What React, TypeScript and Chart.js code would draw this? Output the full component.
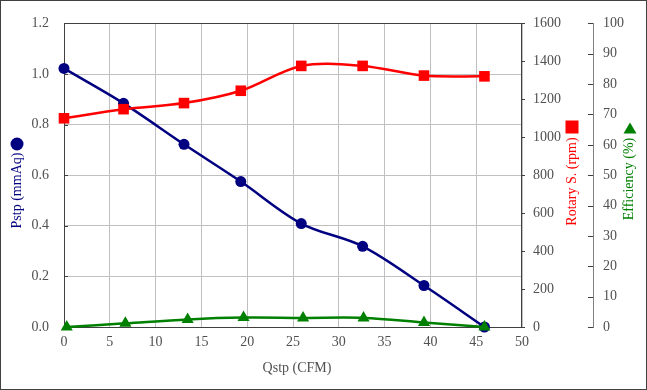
import React, { useEffect, useRef } from "react";
import { Chart, registerables } from "chart.js";

Chart.register(...registerables);

// ---- data ----
const qstp = [0.0, 6.5, 13.1, 19.3, 25.9, 32.6, 39.3, 45.9];
const qEff = [0.3, 6.7, 13.5, 19.6, 26.1, 32.7, 39.3, 45.9];
const pstp = [1.022, 0.884, 0.722, 0.575, 0.409, 0.319, 0.164, 0.0];
const rotary = [1100, 1148, 1180, 1245, 1376, 1376, 1325, 1321];
const efficiency = [0, 1.2, 2.5, 3.1, 3.0, 3.0, 1.5, 0];

const xTitle = "Qstp (CFM)";
const yTitle = "Pstp (mmAq)";
const y1Title = "Rotary S. (rpm)";
const y2Title = "Efficiency (%)";

const NAVY = "#000080";
const RED = "#ff0000";
const GREEN = "#008000";
const TEXT = "#505050";
const FONT = "Liberation Serif";

const decor = {
  id: "decor",
  beforeDatasetsDraw(chart: any) {
    const { ctx, chartArea: a, scales } = chart;
    ctx.save();
    ctx.strokeStyle = "#404040";
    ctx.lineWidth = 1;
    ctx.strokeRect(Math.round(a.left) + 0.5, Math.round(a.top) + 0.5, Math.round(a.right - a.left) - 1, Math.round(a.bottom - a.top));
    // inner ticks on left axis
    const y = scales.y;
    ctx.beginPath();
    for (let v = 0; v <= 1.2001; v += 0.2) {
      const py = Math.round(y.getPixelForValue(v)) + 0.5;
      ctx.moveTo(a.left, py);
      ctx.lineTo(a.left + 4, py);
    }
    ctx.stroke();
    // y2 ticks (pointing left)
    const y2 = scales.y2;
    ctx.beginPath();
    for (let v = 0; v <= 100; v += 10) {
      const py = Math.round(y2.getPixelForValue(v)) + 0.5;
      ctx.moveTo(y2.left - 5, py);
      ctx.lineTo(y2.left, py);
    }
    ctx.stroke();
    ctx.restore();
  },
  afterDraw(chart: any) {
    const { ctx, width, height } = chart;
    ctx.save();
    ctx.strokeStyle = "#404040";
    ctx.lineWidth = 1;
    ctx.strokeRect(0.5, 0.5, width - 1, height - 1);

    ctx.font = `14px "${FONT}"`;
    ctx.textAlign = "center";
    ctx.textBaseline = "middle";
    // x title
    ctx.fillStyle = TEXT;
    ctx.fillText(xTitle, 297, 368);

    const vText = (t: string, x: number, yy: number, color: string) => {
      ctx.save();
      ctx.translate(x, yy);
      ctx.rotate(-Math.PI / 2);
      ctx.fillStyle = color;
      ctx.fillText(t, 0, 0);
      ctx.restore();
    };
    vText(yTitle, 17, 190.5, NAVY);
    vText(y1Title, 572, 181.5, RED);
    vText(y2Title, 629, 179, GREEN);

    // markers
    ctx.fillStyle = NAVY;
    ctx.beginPath();
    ctx.arc(17, 144, 6.5, 0, Math.PI * 2);
    ctx.fill();
    ctx.fillStyle = RED;
    ctx.fillRect(565.5, 120.5, 13, 13);
    ctx.fillStyle = GREEN;
    ctx.beginPath();
    ctx.moveTo(630, 122.5);
    ctx.lineTo(636.5, 133.5);
    ctx.lineTo(623.5, 133.5);
    ctx.closePath();
    ctx.fill();
    ctx.restore();
  },
};

export default function App() {
  const ref = useRef<HTMLCanvasElement>(null);
  useEffect(() => {
    if (!ref.current) return;
    const mk = (xs: number[], ys: number[]) => xs.map((x, i) => ({ x, y: ys[i] }));
    const chart = new Chart(ref.current, {
      type: "line",
      data: {
        datasets: [
          {
            label: "Pstp",
            data: mk(qstp, pstp),
            yAxisID: "y",
            borderColor: NAVY,
            backgroundColor: NAVY,
            borderWidth: 2.5,
            pointStyle: "circle",
            pointRadius: 5.5,
            pointBorderWidth: 0,
            tension: 0.33,
            clip: false as any,
            order: 3,
          },
          {
            label: "Rotary",
            data: mk(qstp, rotary),
            yAxisID: "y1",
            borderColor: RED,
            backgroundColor: RED,
            borderWidth: 2.5,
            pointStyle: "rect",
            pointRadius: 7.5,
            pointBorderWidth: 0,
            tension: 0.33,
            clip: false as any,
            order: 2,
          },
          {
            label: "Efficiency",
            data: mk(qEff, efficiency),
            yAxisID: "y2",
            borderColor: GREEN,
            backgroundColor: GREEN,
            borderWidth: 2.5,
            pointStyle: "triangle",
            pointRadius: 7,
            pointBorderWidth: 0,
            tension: 0.33,
            clip: false as any,
            order: 1,
          },
        ],
      },
      options: {
        animation: false,
        responsive: false,
        layout: { padding: { top: 19, left: 0, right: 0, bottom: 0 } },
        plugins: { legend: { display: false }, tooltip: { enabled: false } },
        font: { family: FONT, size: 14 } as any,
        scales: {
          x: {
            type: "linear",
            min: 0,
            max: 50,
            ticks: { stepSize: 5, color: TEXT, padding: 7, font: { family: FONT, size: 14 }, maxRotation: 0 },
            grid: { color: "#c0c0c0", drawTicks: false },
            border: { display: false },
            afterFit: (s: any) => { s.height = 63; },
          },
          y: {
            position: "left",
            min: 0,
            max: 1.2,
            ticks: {
              stepSize: 0.2,
              color: TEXT,
              padding: 15,
              font: { family: FONT, size: 14 },
              callback: (v: any) => Number(v).toFixed(1),
            },
            grid: { color: "#c0c0c0", drawTicks: false },
            border: { display: false },
            afterFit: (s: any) => { s.width = 64; },
          },
          y1: {
            position: "right",
            min: 0,
            max: 1600,
            ticks: { stepSize: 200, color: TEXT, padding: 8, font: { family: FONT, size: 14 }, callback: (v: any) => String(v) },
            grid: { drawOnChartArea: false, drawTicks: true, tickLength: 3, color: "#404040" },
            border: { display: false },
            afterFit: (s: any) => { s.width = 71; },
          },
          y2: {
            position: "right",
            min: 0,
            max: 100,
            ticks: { stepSize: 10, color: TEXT, padding: 10, font: { family: FONT, size: 14 }, callback: (v: any) => String(v) },
            grid: { display: false, drawOnChartArea: false, drawTicks: false },
            border: { display: true, color: "#808080", width: 1 },
            afterFit: (s: any) => { s.width = 54; },
          },
        },
      },
      plugins: [decor],
    });
    return () => chart.destroy();
  }, []);
  return (
    <div style={{ position: "absolute", left: 0, top: 0, width: 647, height: 390, background: "#fff" }}>
      <canvas ref={ref} width={647} height={390} />
    </div>
  );
}
